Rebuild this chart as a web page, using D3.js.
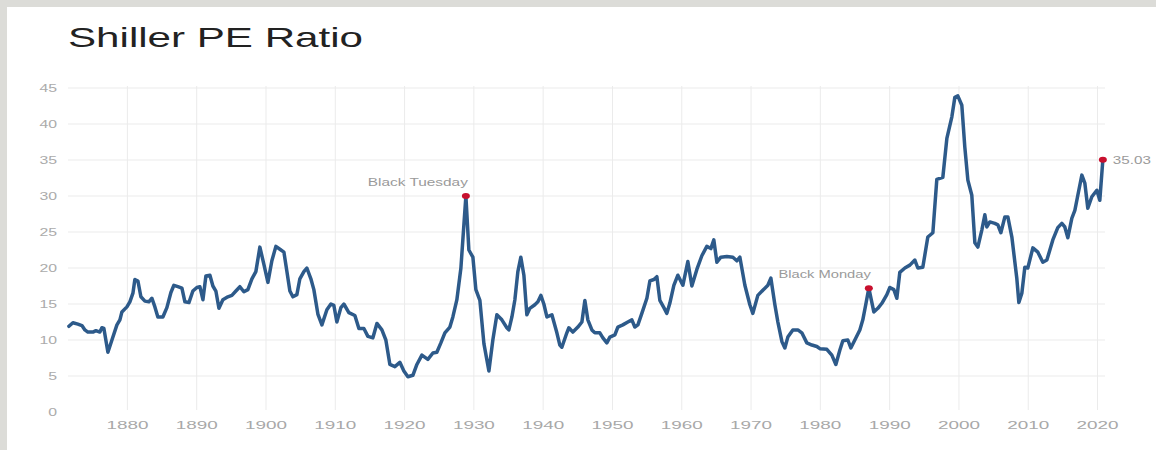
<!DOCTYPE html>
<html>
<head>
<meta charset="utf-8">
<script src="https://cdn.jsdelivr.net/npm/d3@7"></script>
<style>
	body { margin: 0; background: #dcdcd8; }
	svg { display: block; }
</style>
</head>
<body>
<script>

const years = [
	1871.63, 1872.21, 1872.93, 1873.51, 1873.94, 1874.37, 1875.09, 1875.53, 1876.10, 1876.39,
	1876.68, 1877.26, 1877.84, 1878.56, 1878.99, 1879.28, 1880.00, 1880.43, 1880.87, 1881.15,
	1881.59, 1882.02, 1882.60, 1883.17, 1883.61, 1884.04, 1884.47, 1885.19, 1885.77, 1886.35,
	1886.78, 1887.36, 1887.94, 1888.37, 1888.95, 1889.52, 1890.10, 1890.53, 1890.97, 1891.40,
	1891.98, 1892.41, 1892.84, 1893.28, 1893.85, 1894.57, 1895.15, 1895.73, 1896.31, 1896.88,
	1897.46, 1898.04, 1898.61, 1899.19, 1899.77, 1900.35, 1900.92, 1901.50, 1902.08, 1902.66,
	1903.09, 1903.52, 1903.95, 1904.53, 1904.96, 1905.54, 1905.97, 1906.55, 1906.98, 1907.56,
	1908.14, 1908.86, 1909.44, 1909.87, 1910.30, 1910.88, 1911.31, 1912.03, 1912.90, 1913.48,
	1914.20, 1914.78, 1915.50, 1916.08, 1916.80, 1917.37, 1917.95, 1918.67, 1919.39, 1919.97,
	1920.55, 1921.27, 1921.85, 1922.57, 1923.43, 1924.16, 1924.73, 1925.31, 1925.89, 1926.61,
	1927.04, 1927.62, 1928.20, 1928.63, 1928.92, 1929.35, 1929.93, 1930.36, 1930.94, 1931.52,
	1932.24, 1932.81, 1933.39, 1934.11, 1934.83, 1935.12, 1935.56, 1935.99, 1936.42, 1936.85,
	1937.29, 1937.72, 1938.15, 1938.87, 1939.31, 1939.74, 1940.17, 1940.61, 1941.33, 1942.05,
	1942.48, 1942.77, 1943.49, 1943.78, 1944.36, 1945.08, 1945.66, 1946.09, 1946.52, 1947.10,
	1947.53, 1948.25, 1948.69, 1949.26, 1949.70, 1950.42, 1950.85, 1951.57, 1952.29, 1952.87,
	1953.30, 1953.74, 1954.31, 1955.04, 1955.47, 1956.05, 1956.48, 1956.91, 1957.49, 1957.92,
	1958.35, 1958.93, 1959.51, 1960.23, 1960.95, 1961.53, 1962.25, 1962.97, 1963.69, 1964.27,
	1964.70, 1965.14, 1965.71, 1966.58, 1967.45, 1968.02, 1968.46, 1969.18, 1969.90, 1970.33,
	1971.05, 1971.77, 1972.50, 1972.93, 1973.51, 1973.94, 1974.52, 1974.95, 1975.38, 1976.10,
	1976.83, 1977.40, 1978.12, 1978.85, 1979.57, 1980.00, 1981.01, 1981.73, 1982.31, 1982.89,
	1983.32, 1984.04, 1984.47, 1985.05, 1985.77, 1986.20, 1986.64, 1987.07, 1987.79, 1988.37,
	1988.95, 1989.67, 1990.10, 1990.68, 1991.11, 1991.54, 1992.27, 1992.99, 1993.71, 1994.14,
	1994.86, 1995.58, 1996.31, 1996.88, 1997.75, 1998.33, 1999.05, 1999.48, 1999.91, 2000.49,
	2000.92, 2001.36, 2001.93, 2002.37, 2002.80, 2003.38, 2003.81, 2004.10, 2004.53, 2005.25,
	2005.69, 2006.12, 2006.70, 2007.13, 2007.71, 2008.43, 2008.72, 2009.15, 2009.58, 2010.01,
	2010.74, 2011.46, 2012.18, 2012.76, 2013.62, 2014.34, 2014.92, 2015.35, 2015.79, 2016.36,
	2016.80, 2017.23, 2017.81, 2018.24, 2018.67, 2019.25, 2019.97, 2020.40, 2020.84
];

const pe = [
	11.9, 12.4, 12.2, 12.0, 11.4, 11.1, 11.1, 11.3, 11.1, 11.7,
	11.6, 8.3, 10.0, 12.1, 12.8, 13.9, 14.6, 15.3, 16.5, 18.4,
	18.2, 16.0, 15.4, 15.3, 15.8, 14.6, 13.2, 13.2, 14.5, 16.6,
	17.6, 17.4, 17.2, 15.3, 15.2, 16.8, 17.3, 17.4, 15.6, 18.9,
	19.0, 17.5, 16.8, 14.4, 15.6, 16.0, 16.2, 16.8, 17.4, 16.7,
	17.0, 18.5, 19.5, 22.9, 20.5, 18.0, 21.0, 23.0, 22.6, 22.2,
	19.5, 16.8, 16.0, 16.3, 18.5, 19.5, 20.0, 18.5, 17.0, 13.6,
	12.1, 14.2, 15.0, 14.8, 12.5, 14.5, 15.0, 13.8, 13.4, 11.6,
	11.6, 10.5, 10.3, 12.3, 11.4, 10.0, 6.6, 6.3, 6.9, 5.7,
	4.9, 5.1, 6.6, 7.9, 7.3, 8.2, 8.3, 9.6, 11.0, 11.8,
	13.2, 15.6, 20.0, 26.0, 30.0, 22.5, 21.5, 17.0, 15.5, 9.5,
	5.7, 10.0, 13.5, 12.8, 11.7, 11.4, 13.2, 15.6, 19.5, 21.5,
	19.0, 13.5, 14.4, 14.9, 15.3, 16.2, 15.0, 13.2, 13.5, 11.0,
	9.3, 9.0, 11.0, 11.7, 11.1, 11.8, 12.5, 15.5, 12.8, 11.4,
	11.0, 11.0, 10.3, 9.6, 10.4, 10.7, 11.8, 12.1, 12.5, 12.8,
	11.8, 12.1, 13.7, 15.8, 18.2, 18.4, 18.8, 15.5, 14.5, 13.7,
	15.1, 17.6, 19.0, 17.6, 20.9, 17.5, 19.8, 21.7, 23.0, 22.7,
	23.9, 20.8, 21.5, 21.6, 21.5, 21.0, 21.5, 17.6, 14.9, 13.7,
	16.2, 16.9, 17.6, 18.6, 14.9, 12.5, 9.8, 8.9, 10.4, 11.4,
	11.4, 11.0, 9.6, 9.3, 9.1, 8.8, 8.7, 7.9, 6.6, 8.6,
	9.9, 10.0, 8.9, 10.0, 11.4, 12.8, 15.0, 17.2, 13.9, 14.4,
	15.1, 16.3, 17.3, 17.0, 15.8, 19.4, 20.0, 20.4, 21.1, 20.0,
	20.1, 24.3, 24.9, 32.3, 32.6, 38.0, 41.0, 43.7, 43.9, 42.6,
	36.8, 32.2, 30.1, 23.5, 22.9, 25.3, 27.4, 25.7, 26.4, 26.2,
	26.0, 24.9, 27.1, 27.1, 24.3, 18.5, 15.2, 16.5, 20.1, 20.0,
	22.8, 22.2, 20.8, 21.1, 23.9, 25.6, 26.2, 25.7, 24.2, 26.9,
	28.0, 30.1, 32.9, 31.8, 28.3, 29.9, 30.8, 29.4, 35.03
];

const xTicks = [1880, 1890, 1900, 1910, 1920, 1930, 1940, 1950, 1960, 1970, 1980, 1990, 2000, 2010, 2020];
const yTicks = [0, 5, 10, 15, 20, 25, 30, 35, 40, 45];

const noteNames = ['Black Tuesday', 'Black Monday'];
const noteYears = [1928.92, 1987.07];


const dataset = years.map((y, i) => [y, pe[i]]);

const width = 1156;
const height = 450;

const svg = d3.select('body')
	.append('svg')
	.attr('width', width)
	.attr('height', height);

// white card on the grey page
svg.append('rect')
	.attr('x', 7)
	.attr('y', 7)
	.attr('width', width - 7)
	.attr('height', height - 7)
	.attr('fill', '#ffffff');

svg.append('text')
	.attr('x', 68)
	.attr('y', 47)
	.attr('font-family', 'Liberation Sans, Arial, sans-serif')
	.attr('font-size', 28)
	.attr('fill', '#222')
	.attr('textLength', 295)
	.attr('lengthAdjust', 'spacingAndGlyphs')
	.text('Shiller PE Ratio');

const xScale = d3.scaleLinear()
	.domain([1871.5, 2021.15])
	.range([68, 1105]);
const yScale = d3.scaleLinear()
	.domain([0, 45])
	.range([412, 88]);

// horizontal grid (no line at zero)
svg.append('g')
	.selectAll('line')
	.data(yTicks.filter(d => d > 0))
	.enter()
	.append('line')
	.attr('x1', 68)
	.attr('x2', 1105)
	.attr('y1', d => yScale(d))
	.attr('y2', d => yScale(d))
	.attr('stroke', '#ebebeb')
	.attr('stroke-width', 1);

const xAxis = d3.axisBottom(xScale)
	.tickValues(xTicks)
	.tickSize(-(412 - 88))
	.tickFormat(d3.format('d'));

const gx = svg.append('g')
	.attr('id', 'x-axis')
	.attr('transform', 'translate(0,' + 410 + ')')
	.call(xAxis);

gx.select('.domain').remove();
gx.selectAll('.tick line')
	.attr('stroke', '#ebebeb');
gx.selectAll('.tick text')
	.attr('y', 12)
	.attr('font-family', 'Liberation Sans, Arial, sans-serif')
	.attr('font-size', 10.5)
	.attr('fill', '#a8a8a8')
	.attr('textLength', 42)
	.attr('lengthAdjust', 'spacingAndGlyphs');

const yAxis = d3.axisLeft(yScale)
	.tickValues(yTicks)
	.tickSize(0)
	.tickPadding(0);

const gy = svg.append('g')
	.attr('id', 'y-axis')
	.attr('transform', 'translate(57, 0)')
	.call(yAxis);

gy.select('.domain').remove();
gy.selectAll('.tick text')
	.attr('font-family', 'Liberation Sans, Arial, sans-serif')
	.attr('font-size', 10.5)
	.attr('fill', '#ababab')
	.attr('textLength', d => String(d).length * 8.8)
	.attr('lengthAdjust', 'spacingAndGlyphs');

const line = d3.line()
	.x(d => xScale(d[0]))
	.y(d => yScale(d[1]));

svg.append('path')
	.datum(dataset)
	.attr('fill', 'none')
	.attr('stroke', '#2d5a8a')
	.attr('stroke-width', 3.5)
	.attr('stroke-linejoin', 'round')
	.attr('stroke-linecap', 'round')
	.attr('d', line);

// annotated points
const notes = noteNames.map((n, i) => {
	const idx = years.indexOf(noteYears[i]);
	return { name: n, year: years[idx], value: pe[idx], width: n.length * 7.7 };
});
const last = { year: years[years.length - 1], value: pe[pe.length - 1] };

svg.selectAll('.note')
	.data(notes)
	.enter()
	.append('text')
	.attr('class', 'note')
	.attr('x', d => xScale(d.year) + 2)
	.attr('y', d => yScale(d.value) - 10)
	.attr('text-anchor', 'end')
	.attr('font-family', 'Liberation Sans, Arial, sans-serif')
	.attr('font-size', 11)
	.attr('fill', '#9a9a9a')
	.attr('textLength', d => d.width)
	.attr('lengthAdjust', 'spacingAndGlyphs')
	.text(d => d.name);

svg.append('text')
	.attr('x', xScale(last.year) + 10)
	.attr('y', yScale(last.value) + 4)
	.attr('font-family', 'Liberation Sans, Arial, sans-serif')
	.attr('font-size', 11)
	.attr('fill', '#9a9a9a')
	.attr('textLength', 38)
	.attr('lengthAdjust', 'spacingAndGlyphs')
	.text(last.value.toFixed(2));

svg.selectAll('.dot')
	.data(notes.concat([last]))
	.enter()
	.append('ellipse')
	.attr('class', 'dot')
	.attr('cx', d => xScale(d.year))
	.attr('cy', d => yScale(d.value))
	.attr('rx', 4)
	.attr('ry', 3)
	.attr('fill', '#c8102e');

</script>
</body>
</html>
